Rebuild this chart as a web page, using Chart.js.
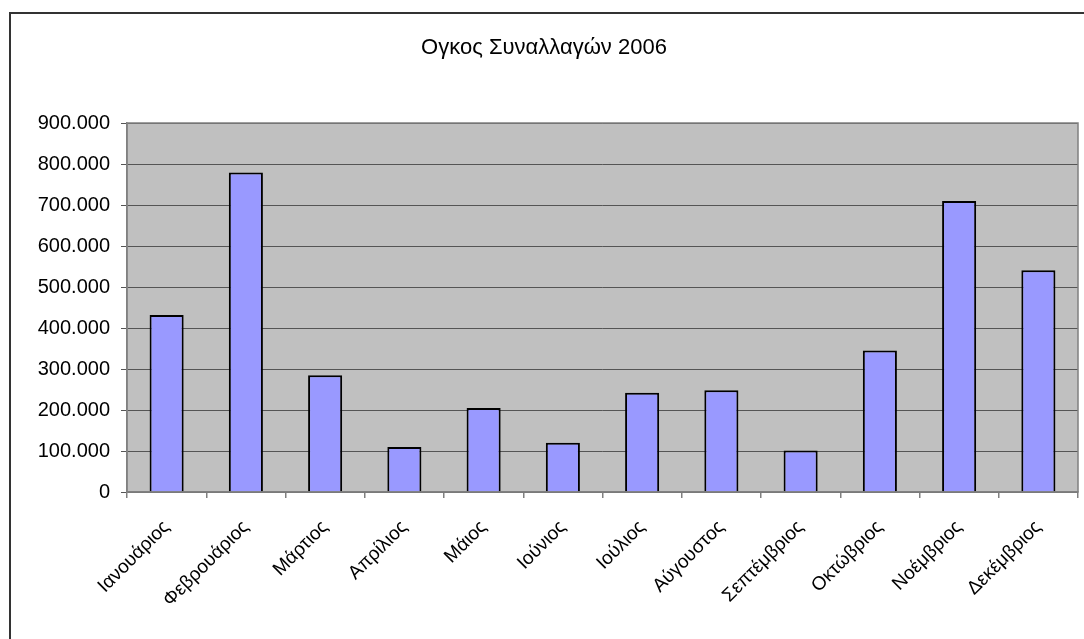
<!DOCTYPE html>
<html>
<head>
<meta charset="utf-8">
<script src="https://cdn.jsdelivr.net/npm/chart.js@4/dist/chart.umd.min.js"></script>
<style>
  html, body { margin: 0; padding: 0; background: #fff; overflow: hidden; width: 1084px; height: 639px; }
  #frame { position: absolute; left: 9px; top: 12px; width: 2000px; height: 2000px; border-left: 2px solid #333; border-top: 2px solid #333; }
  #c { position: absolute; left: 0; top: 0; }
</style>
</head>
<body>
<div id="frame"></div>
<canvas id="c" width="1084" height="639"></canvas>
<script>
const chartTitle = 'Ογκος Συναλλαγών 2006';
const months = ['Ιανουάριος', 'Φεβρουάριος', 'Μάρτιος', 'Απρίλιος', 'Μάιος', 'Ιούνιος',
                'Ιούλιος', 'Αύγουστος', 'Σεπτέμβριος', 'Οκτώβριος', 'Νοέμβριος', 'Δεκέμβριος'];
const volumes = [432000, 779000, 285000, 110000, 205000, 120000,
                 242000, 248000, 101000, 345000, 710000, 541000];
const yMin = 0, yMax = 900000, yStep = 100000;

function fmt(v) { return String(v).replace(/\B(?=(\d{3})+(?!\d))/g, '.'); }

const plotBg = {
  id: 'plotBg',
  beforeDraw(chart) {
    const a = chart.chartArea, ctx = chart.ctx;
    ctx.save();
    ctx.fillStyle = '#C0C0C0';
    ctx.fillRect(a.left, a.top, a.right - a.left, a.bottom - a.top);
    ctx.restore();
  },
  afterDatasetsDraw(chart) {
    const a = chart.chartArea, ctx = chart.ctx;
    ctx.save();
    ctx.strokeStyle = '#808080';
    ctx.lineWidth = 1.5;
    ctx.strokeRect(a.left, a.top, a.right - a.left, a.bottom - a.top);
    ctx.restore();
  }
};

new Chart(document.getElementById('c'), {
  type: 'bar',
  data: {
    labels: months,
    datasets: [{
      data: volumes,
      backgroundColor: '#9999FF',
      borderColor: '#000000',
      borderWidth: 2,
      barPercentage: 0.43,
      categoryPercentage: 1.0
    }]
  },
  options: {
    responsive: false,
    devicePixelRatio: 1,
    animation: false,
    layout: { padding: { left: 10, right: 6, top: 0, bottom: 0 } },
    plugins: {
      legend: { display: false },
      tooltip: { enabled: false },
      title: {
        display: true,
        text: chartTitle,
        color: '#000',
        font: { family: 'Liberation Sans', size: 22, weight: 'normal' },
        padding: { top: 35, bottom: 61.6 }
      }
    },
    scales: {
      x: {
        offset: true,
        grid: { display: true, drawOnChartArea: false, offset: true, tickLength: 6, color: '#808080', lineWidth: 1.5 },
        border: { display: true, color: '#808080', width: 1.5 },
        ticks: {
          color: '#000',
          font: { family: 'Liberation Sans', size: 19 },
          minRotation: 45, maxRotation: 45,
          padding: 18,
          autoSkip: false
        },
        afterFit(s) { s.height = 147; }
      },
      y: {
        min: yMin, max: yMax,
        grid: { color: '#555555', lineWidth: 1, tickLength: 6, tickColor: '#555555' },
        border: { display: true, color: '#808080', width: 1.5 },
        ticks: {
          stepSize: yStep,
          color: '#000',
          font: { family: 'Liberation Sans', size: 20 },
          padding: 11,
          callback: (v) => fmt(v)
        },
        afterFit(s) { s.width = 117; }
      }
    }
  },
  plugins: [plotBg]
});
</script>
</body>
</html>
